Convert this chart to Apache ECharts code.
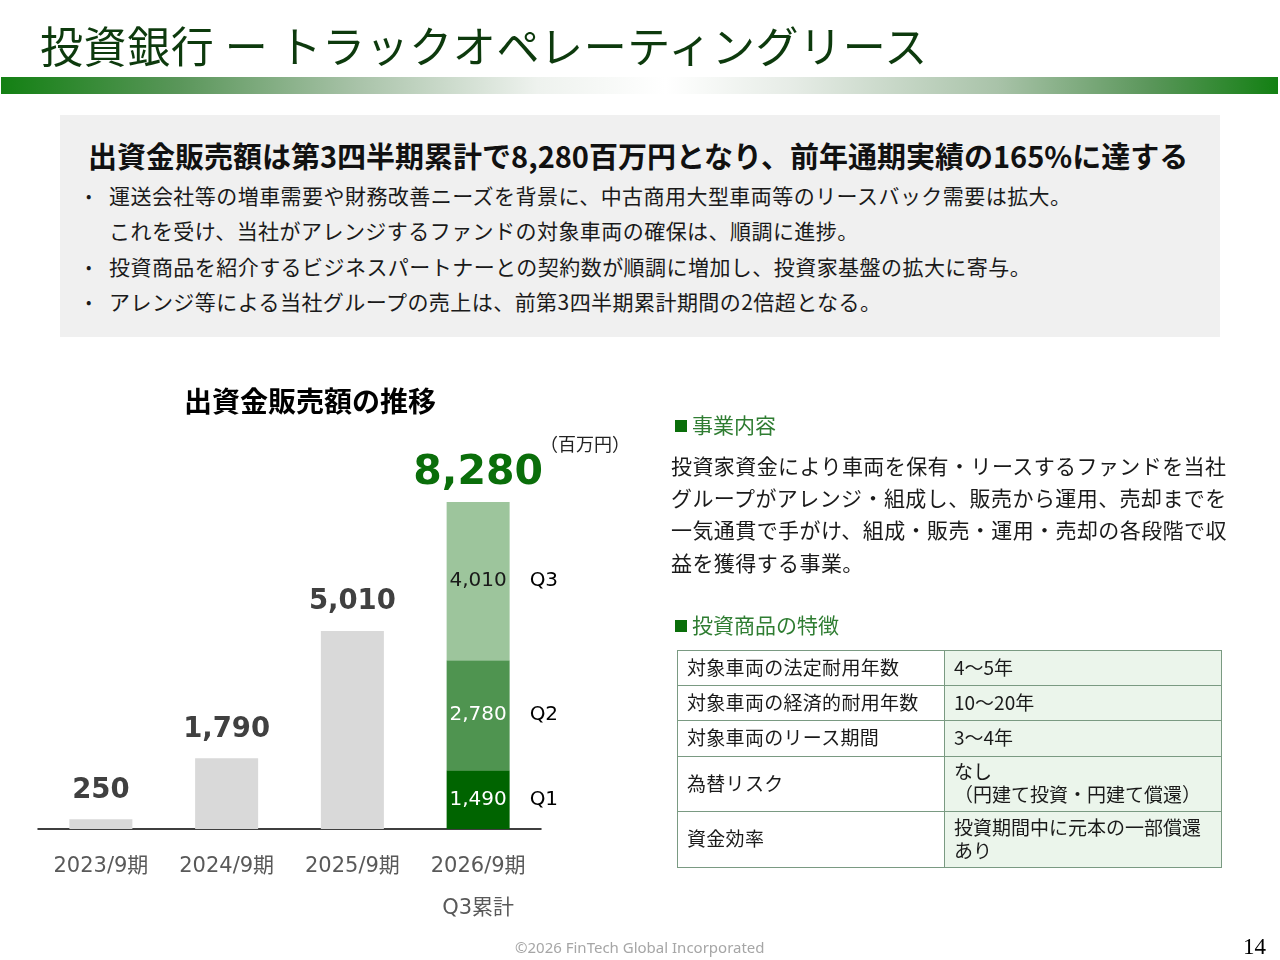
<!DOCTYPE html>
<html lang="ja">
<head>
<meta charset="utf-8">
<title>投資銀行 ー トラックオペレーティングリース</title>
<script src="https://cdn.jsdelivr.net/npm/echarts@6/dist/echarts.min.js"></script>
<style>
  html, body { margin: 0; padding: 0; background: #fff; }
  body { font-family: "Noto Sans CJK JP", "Noto Sans", sans-serif; }
  .slide { position: relative; width: 1280px; height: 960px; overflow: hidden; }
  #chart { position: absolute; left: 0; top: 0; width: 1280px; height: 960px; }
  .abs { position: absolute; white-space: nowrap; }
  .title { left: 40px; top: 21px; font-size: 43px; line-height: 46px; letter-spacing: 0.6px; color: #0d3a0d; }
  .band { left: 1px; top: 77px; width: 1277px; height: 17px;
    background: linear-gradient(to right, #138013 0%, #5a965a 14%, #a9c3a9 28%, #eef2ee 42%, #ffffff 52%, #e6ece6 62%, #a9c3a9 78%, #5a965a 90%, #138013 100%); }
  .box { left: 60px; top: 115px; width: 1160px; height: 222px; background: #f0f0f0; }
  .headline { left: 88px; top: 137px; font-size: 29px; line-height: 36px; font-weight: bold; color: #111; }
  .bullets { left: 86px; top: 178px; font-size: 21px; line-height: 35.3px; letter-spacing: 0.45px; color: #1a1a1a; }
  .bullets div { position: relative; padding-left: 23px; }
  .bullets .dot::before { content: "•"; position: absolute; left: 0; font-size: 16px; }
  .sec { left: 675px; font-size: 21px; line-height: 28px; color: #2f7d32; }
  .sq { display: inline-block; width: 12px; height: 12px; background: #0a6e0a; margin-right: 5px; vertical-align: 1px; }
  .para { left: 671px; top: 449px; font-size: 21px; line-height: 32.2px; letter-spacing: 0.42px; color: #1a1a1a; }
  table.spec { position: absolute; left: 677px; top: 650px; width: 545px; border-collapse: collapse;
    font-size: 19px; color: #1a1a1a; }
  table.spec td { border: 1.5px solid #7a9a82; padding: 0 0 4px 9px; line-height: 23px; vertical-align: middle; }
  table.spec td.k { width: 257px; background: #fff; letter-spacing: 0.3px; }
  table.spec td.v { background: #ebf5eb; }
  .foot { left: 515px; top: 937px; font-family: "Noto Sans", sans-serif; font-size: 15px; line-height: 20px; color: #a6a6a6; }
  .page { left: 1243px; top: 934px; font-family: "Liberation Serif", serif; font-size: 23px; line-height: 26px; color: #000; }
</style>
</head>
<body>
<div class="slide">
  <div id="chart"></div>

  <div class="abs title">投資銀行 ー トラックオペレーティングリース</div>
  <div class="abs band"></div>

  <div class="abs box"></div>
  <div class="abs headline">出資金販売額は第3四半期累計で8,280百万円となり、前年通期実績の165%に達する</div>
  <div class="abs bullets">
    <div class="dot">運送会社等の増車需要や財務改善ニーズを背景に、中古商用大型車両等のリースバック需要は拡大。</div>
    <div>これを受け、当社がアレンジするファンドの対象車両の確保は、順調に進捗。</div>
    <div class="dot">投資商品を紹介するビジネスパートナーとの契約数が順調に増加し、投資家基盤の拡大に寄与。</div>
    <div class="dot">アレンジ等による当社グループの売上は、前第3四半期累計期間の2倍超となる。</div>
  </div>

  <div class="abs sec" style="top:410px;"><span class="sq"></span>事業内容</div>
  <div class="abs para">
    投資家資金により車両を保有・リースするファンドを当社<br>
    グループがアレンジ・組成し、販売から運用、売却までを<br>
    一気通貫で手がけ、組成・販売・運用・売却の各段階で収<br>
    益を獲得する事業。
  </div>

  <div class="abs sec" style="top:610px;"><span class="sq"></span>投資商品の特徴</div>
  <table class="spec">
    <tr style="height:35px;"><td class="k">対象車両の法定耐用年数</td><td class="v">4～5年</td></tr>
    <tr style="height:35px;"><td class="k">対象車両の経済的耐用年数</td><td class="v">10～20年</td></tr>
    <tr style="height:36px;"><td class="k">対象車両のリース期間</td><td class="v">3～4年</td></tr>
    <tr style="height:55px;"><td class="k">為替リスク</td><td class="v">なし<br>（円建て投資・円建て償還）</td></tr>
    <tr style="height:56px;"><td class="k">資金効率</td><td class="v">投資期間中に元本の一部償還<br>あり</td></tr>
  </table>

  <div class="abs foot">©2026 FinTech Global Incorporated</div>
  <div class="abs page">14</div>
</div>

<script>
const categories = ['2023/9期', '2024/9期', '2025/9期', '2026/9期\nQ3累計'];
const annualSales = [250, 1790, 5010, null];
const quarterNames = ['Q1', 'Q2', 'Q3'];
const q1Sales = [null, null, null, 1490];
const q2Sales = [null, null, null, 2780];
const q3Sales = [null, null, null, 4010];
const quarterColors = ['#006400', '#4f9450', '#9dc59c'];
const quarterLabelColors = ['#ffffff', '#ffffff', '#1a1a1a'];

const numFont = 'DejaVu Sans, Noto Sans CJK JP, sans-serif';

const quarterData = [q1Sales, q2Sales, q3Sales];
const totalSales = categories.map(function (c, i) {
  const parts = quarterData.map(function (d) { return d[i]; }).filter(function (v) { return v != null; });
  return parts.length ? parts.reduce(function (a, b) { return a + b; }, 0) : null;
});

const myChart = echarts.init(document.getElementById('chart'));

const quarterSeries = quarterData.map(function (d, k) {
  return {
    name: quarterNames[k],
    type: 'bar',
    stack: 'sales',
    barWidth: 63,
    data: d,
    itemStyle: { color: quarterColors[k] },
    label: {
      show: true,
      position: [0, '50%'],
      align: 'left',
      verticalAlign: 'middle',
      formatter: function (p) {
        return '{v|' + p.value.toLocaleString('en-US') + '}{q|' + quarterNames[k] + '}';
      },
      rich: {
        v: { width: 63, align: 'center', fontSize: 20, color: quarterLabelColors[k], fontFamily: numFont },
        q: { padding: [0, 0, 0, 20], fontSize: 20, color: '#000', fontFamily: numFont }
      }
    }
  };
});

myChart.setOption({
  animation: false,
  textStyle: { fontFamily: 'Noto Sans CJK JP' },
  title: [
    { text: '出資金販売額の推移', left: 179, top: 382,
      textStyle: { fontSize: 28, fontWeight: 'bold', color: '#000' } },
    { text: '（百万円）', left: 535, top: 430,
      textStyle: { fontSize: 18, fontWeight: 'normal', color: '#222' } }
  ],
  grid: { left: 38, right: 739, top: 434, bottom: 131 },
  xAxis: {
    type: 'category',
    data: categories,
    axisLine: { lineStyle: { color: '#000', width: 1.5 } },
    axisTick: { show: false },
    axisLabel: { color: '#595959', fontSize: 21, lineHeight: 42, margin: 17, fontFamily: numFont }
  },
  yAxis: {
    type: 'value',
    min: 0,
    max: 10000,
    show: false,
    splitLine: { show: false }
  },
  series: [
    {
      name: '出資金販売額',
      type: 'bar',
      stack: 'sales',
      barWidth: 63,
      data: annualSales,
      itemStyle: { color: '#d9d9d9' },
      label: {
        show: true,
        position: 'top',
        distance: 15,
        fontSize: 27.5,
        fontWeight: 'bold',
        fontFamily: numFont,
        color: '#404040',
        formatter: function (p) { return p.value.toLocaleString('en-US'); }
      }
    }
  ].concat(quarterSeries).concat([
    {
      name: '累計',
      type: 'bar',
      stack: 'sales',
      barWidth: 63,
      data: totalSales.map(function (v) { return v == null ? null : 0; }),
      itemStyle: { color: 'transparent' },
      label: {
        show: true,
        position: 'top',
        distance: 8,
        fontSize: 41,
        fontWeight: 'bold',
        fontFamily: numFont,
        color: '#0a6e0a',
        formatter: function (p) {
          return totalSales[p.dataIndex] == null ? '' : totalSales[p.dataIndex].toLocaleString('en-US');
        }
      }
    }
  ])
});
</script>
</body>
</html>
